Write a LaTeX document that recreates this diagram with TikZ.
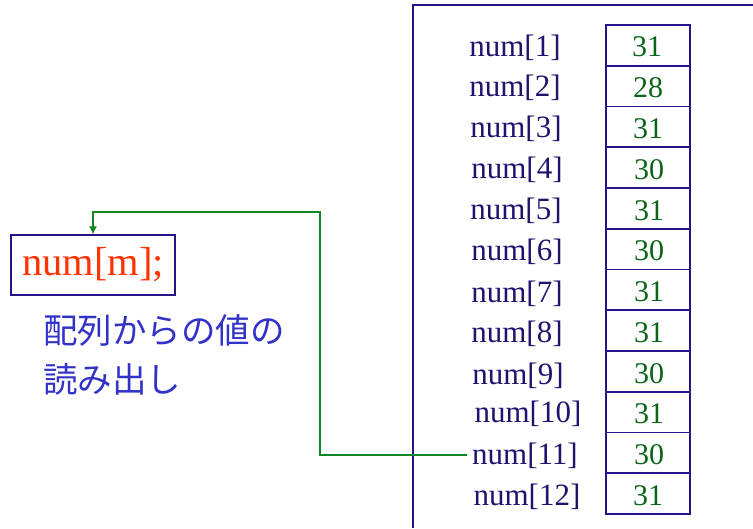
\documentclass[tikz,border=0pt]{standalone}
\usepackage{fontspec}
\setmainfont{Liberation Serif}
\newfontfamily\jpfont{Noto Sans CJK JP}
\usepackage{tikz}
\usetikzlibrary{arrows.meta}

\definecolor{navy}{RGB}{40,20,135}
\definecolor{labnavy}{RGB}{30,20,110}
\definecolor{valgreen}{RGB}{10,100,25}
\definecolor{linkgreen}{RGB}{15,135,35}
\definecolor{redtext}{RGB}{255,51,0}
\definecolor{jpblue}{RGB}{50,50,200}

\tikzset{
  cell/.style={draw=navy,line width=1.5pt,minimum width=84pt,minimum height=40.75pt,
    inner sep=0pt,text=valgreen,font=\fontsize{30}{32}\selectfont},
  val/.style={text=valgreen,inner sep=0pt,font=\fontsize{30}{32}\selectfont},
  idx/.style={text=labnavy,inner sep=5pt,font=\fontsize{31}{34}\selectfont},
  link/.style={draw=linkgreen,line width=1.3pt,-{Latex[length=8pt,width=8pt]}}
}

\begin{document}
\begin{tikzpicture}[x=1pt,y=-1pt]
\useasboundingbox (0,0) rectangle (753,528);
\draw [navy,line width=1.5pt] (753,5) -- (413,5) -- (413,528);

\node [cell] (c1) at (648,45.4) {};
\node [cell] (c2) at (648,86.1) {};
\node [cell] (c3) at (648,126.9) {};
\node [cell] (c4) at (648,167.6) {};
\node [cell] (c5) at (648,208.4) {};
\node [cell] (c6) at (648,249.1) {};
\node [cell] (c7) at (648,289.9) {};
\node [cell] (c8) at (648,330.6) {};
\node [cell] (c9) at (648,371.4) {};
\node [cell] (c10) at (648,412.1) {};
\node [cell] (c11) at (648,452.9) {};
\node [cell] (c12) at (648,493.6) {};

\node [val] (v1) at (647,47) {31};
\node [val] (v2) at (648,88) {28};
\node [val] (v3) at (648,129) {31};
\node [val] (v4) at (649,170) {30};
\node [val] (v5) at (649,211) {31};
\node [val] (v6) at (649,251) {30};
\node [val] (v7) at (649,292) {31};
\node [val] (v8) at (649,333) {31};
\node [val] (v9) at (649,374) {30};
\node [val] (v10) at (649,414) {31};
\node [val] (v11) at (649,455) {30};
\node [val] (v12) at (648,496) {31};

\node [idx] (l1) at (515,48) {num[1]};
\node [idx] (l2) at (515,88) {num[2]};
\node [idx] (l3) at (516,129) {num[3]};
\node [idx] (l4) at (517,170) {num[4]};
\node [idx] (l5) at (516,211) {num[5]};
\node [idx] (l6) at (517,252) {num[6]};
\node [idx] (l7) at (517,294) {num[7]};
\node [idx] (l8) at (517,334) {num[8]};
\node [idx] (l9) at (518,376) {num[9]};
\node [idx] (l10) at (528,414) {num[10]};
\node [idx] (l11) at (525,456) {num[11]};
\node [idx] (l12) at (527,497) {num[12]};

\node [draw=navy,line width=1.2pt,minimum width=164pt,minimum height=60pt,inner sep=0pt,
  text=redtext,font=\fontsize{40.5}{44}\selectfont] (mbox) at (93,265) {num[m];};
\node [anchor=north west,align=left,text=jpblue,inner sep=0pt,
  font=\jpfont\fontsize{34.5}{49}\selectfont] (note) at (43,314) {配列からの値の\\読み出し};

\coordinate (turn) at (320,212);
\draw [link] (l11.west |- 0,455) -| (turn) -| (mbox.north);
\end{tikzpicture}
\end{document}
